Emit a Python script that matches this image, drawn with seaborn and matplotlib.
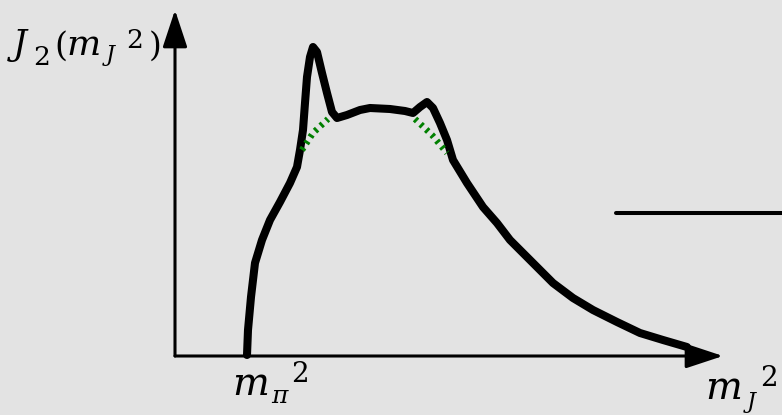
import numpy as np
import pandas as pd
import matplotlib
matplotlib.use('Agg')
import matplotlib.pyplot as plt
import seaborn as sns

# Sketch of the spectral function J_2 vs m_J^2 (values read off the picture,
# x and y measured from the axis origin)
m2 = [72, 73, 76, 80, 87, 95, 105, 115, 122, 125, 128, 130, 132, 135, 138,
      142, 147, 152, 157, 162, 172, 185, 195, 215, 230, 238, 245, 252, 258,
      265, 272, 278, 292, 308, 322, 335, 358, 378, 398, 418, 442, 465, 488, 512]
j2 = [1, 26, 59, 93, 116, 136, 154, 173, 189, 206, 226, 253, 279, 299, 309,
      304, 283, 263, 244, 238, 241, 246, 248, 247, 245, 243, 249, 254, 248,
      233, 216, 196, 173, 149, 133, 116, 93, 73, 58, 46, 34, 23, 16, 9]

# green dotted "smoothed" continuations under the two peaks
left_m2 = [127, 138, 153]
left_j2 = [206, 223, 237]
right_m2 = [240, 257, 272]
right_j2 = [237, 221, 203]

# axes extent and the short horizontal mark on the right
x_end = 548
y_end = 346
mark_m2 = [441, 607]
mark_j2 = [143, 143]

# label pieces: (text, x, baseline y, size, italic)
ylabel_parts = [('J', -162, 301, 25, True), ('2', -142, 291, 19, False),
                ('(', -121, 300, 24, False), ('m', -109, 301, 26, True),
                ('J', -69, 295, 16, True), ('2', -49, 308, 19, False),
                (')', -26, 300, 24, False)]
mpi_parts = [('m', 57, -39, 28, True), ('π', 96, -47, 18, True),
             ('2', 116, -26, 20, False)]
xlabel_parts = [('m', 530, -43, 28, True), ('J', 572, -52, 16, True),
                ('2', 585, -30, 20, False)]

bg = '#e3e3e3'
sns.set_theme(style='white')
plt.rcParams['font.family'] = ['DejaVu Serif']
plt.rcParams['text.color'] = 'black'

fig = plt.figure(figsize=(7.82, 4.15), dpi=100, facecolor=bg)
ax = fig.add_axes([0, 0, 1, 1])
ax.set_facecolor(bg)
ax.set_xlim(-175, 607)
ax.set_ylim(-59, 356)
ax.set_axis_off()

curve = pd.DataFrame({'m2': m2, 'j2': j2})
sns.lineplot(data=curve, x='m2', y='j2', sort=False, color='black', lw=5.8,
             solid_capstyle='round', solid_joinstyle='round', ax=ax)

for xs, ys in [(left_m2, left_j2), (right_m2, right_j2)]:
    sns.lineplot(x=xs, y=ys, sort=False, color='#008000', lw=4.6,
                 linestyle=(0, (0.45, 0.75)), dash_capstyle='butt', ax=ax)

sns.lineplot(x=mark_m2, y=mark_j2, color='black', lw=2.9, ax=ax)

# axes with arrow heads
arrow = dict(arrowstyle='-|>,head_length=1.15,head_width=0.38', lw=2.2,
             color='black', mutation_scale=20, shrinkA=0, shrinkB=0)
ax.annotate('', xy=(x_end, 0), xytext=(0, 0), arrowprops=arrow)
ax.annotate('', xy=(0, y_end), xytext=(0, 0), arrowprops=arrow)

# labels: each piece placed on its own so sub/superscripts keep full size
for parts in [ylabel_parts, mpi_parts, xlabel_parts]:
    for s, x, y, size, italic in parts:
        ax.text(x, y, s, fontsize=size, va='baseline', ha='left',
                style='italic' if italic else 'normal')

fig.savefig('out.png', dpi=100, facecolor=bg)
